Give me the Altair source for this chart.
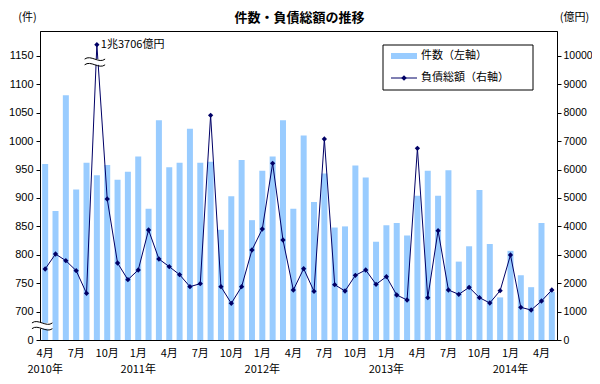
import altair as alt
import pandas as pd

# ---- data ----
months = [f"{2010 + (3 + i) // 12}-{(3 + i) % 12 + 1:02d}" for i in range(50)]  # 2010-04 .. 2014-05

counts = [960, 877, 1081, 915, 962, 940, 958, 932, 946, 973,
          881, 1037, 954, 962, 1022, 962, 964, 844, 903, 967,
          861, 948, 973, 1037, 881, 1010, 893, 943, 848, 850,
          957, 936, 823, 852, 856, 834, 904, 948, 904, 949,
          788, 815, 914, 819, 725, 807, 764, 743, 856, 735]

amounts = [2500, 3028, 2793, 2441, 1643, 13706, 4965, 2711, 2124, 2465,
           3873, 2852, 2582, 2300, 1878, 1983, 7911, 1878, 1291, 1878,
           3169, 3908, 6221, 3521, 1760, 2512, 1714, 7077, 1948, 1725,
           2277, 2465, 1960, 2230, 1585, 1408, 6749, 1491, 3850, 1760,
           1608, 1854, 1491, 1303, 1737, 2993, 1150, 1056, 1373, 1760]

tick_months = [m for m in months if int(m[5:]) in (1, 4, 7, 10)]
tick_labels = [f"{int(m[5:])}月" for m in tick_months]
year_months = ["2010-04", "2011-01", "2012-01", "2013-01", "2014-01"]
year_labels = ["2010年", "2011年", "2012年", "2013年", "2014年"]
left_ticks = [0, 700, 750, 800, 850, 900, 950, 1000, 1050, 1100, 1150]
right_ticks = [0, 1000, 2000, 3000, 4000, 5000, 6000, 7000, 8000, 9000, 10000]
spike_label = "1兆3706億円"
legend_labels = ["件数（左軸）", "負債総額（右軸）"]
title_text = "件数・負債総額の推移"

# ---- styling ----
JP = "Noto Sans CJK JP"
NUM = "Liberation Sans"
BAR = "#99CCFF"
LINE = "#000066"
BREAK_BASE = 650      # left axis is broken: 0 .. 700 squeezed into one 50-step
CAP = 10400           # the 1兆3706億円 point is drawn clipped at the top
W, H = 517, 309
LMAX, RMAX = 544, 10880

df = pd.DataFrame({"month": months, "count": counts, "amount": amounts})
tdf = pd.DataFrame({"month": tick_months, "label": tick_labels})
ydf = pd.DataFrame({"month": year_months, "label": year_labels})
one = pd.DataFrame({"k": [0]})

XS = alt.Scale(paddingInner=0, paddingOuter=0)


def lsc():
    return alt.Scale(domain=[0, LMAX], nice=False, zero=True)


def rsc():
    return alt.Scale(domain=[0, RMAX], nice=False, zero=True)


xenc = alt.X("month:O", sort=months, title=None, scale=XS, axis=None)
xnone = alt.X("month:O", sort=months, axis=None)

left_vals = [0 if v == 0 else v - BREAK_BASE for v in left_ticks]

bars = alt.Chart(df).transform_calculate(
    ct=f"datum.count - {BREAK_BASE}"
).mark_bar(color=BAR, size=6).encode(
    x=xenc,
    y=alt.Y("ct:Q", scale=lsc(),
            axis=alt.Axis(values=left_vals, title="(件)", titleAngle=0, titleX=-13, titleY=-14,
                          titleAlign="center", titleBaseline="middle", titleFont=JP,
                          titleFontSize=11, titleFontWeight="normal",
                          labelExpr=f"datum.value == 0 ? '0' : datum.value + {BREAK_BASE}",
                          labelFont=NUM, labelFontSize=11, tickSize=4, labelPadding=3,
                          grid=False, labelColor="black")),
)

rbase = alt.Chart(df).transform_calculate(disp=f"min(datum.amount, {CAP})")
line = rbase.mark_line(color=LINE, strokeWidth=1).encode(
    x=xnone,
    y=alt.Y("disp:Q", scale=rsc(),
            axis=alt.Axis(orient="right", values=right_ticks, format="d", title="(億円)",
                          titleAngle=0, titleX=17, titleY=-14, titleAlign="center",
                          titleBaseline="middle", titleFont=JP, titleFontSize=11,
                          titleFontWeight="normal", labelFont=NUM, labelFontSize=10.5,
                          tickSize=4, labelPadding=2, grid=False, labelColor="black")))
pts = rbase.mark_point(shape="diamond", filled=True, color=LINE, size=28, opacity=1).encode(
    x=xnone, y=alt.Y("disp:Q", scale=rsc(), axis=None))
spike_txt = rbase.transform_filter(f"datum.amount > {CAP}").mark_text(
    text=spike_label, font=JP, fontSize=11, align="left", baseline="middle", dx=4, color="black"
).encode(x=xnone, y=alt.Y("disp:Q", scale=rsc(), axis=None))

month_txt = alt.Chart(tdf).mark_text(font=JP, fontSize=11, baseline="top", color="black").encode(
    x=xnone, y=alt.value(H + 8), text="label:N")
years = alt.Chart(ydf).mark_text(font=JP, fontSize=11, baseline="top", color="black").encode(
    x=xnone, y=alt.value(H + 24), text="label:N")

wave = "M-1,-0.28C-0.4,-0.75,0.4,0.2,1,-0.28M-1,0.28C-0.4,-0.2,0.4,0.75,1,0.28"
blank = "M-1,-0.28H1V0.28H-1Z"


def brk(shape, month, val, sc, filled, color, xoff):
    return alt.Chart(one).mark_point(
        shape=shape, size=420, filled=filled, color=color, strokeWidth=1, opacity=1, xOffset=xoff
    ).encode(x=alt.X(datum=month, type="ordinal", axis=None),
             y=alt.Y(datum=val, type="quantitative", scale=sc, axis=None))


lbreak_w = brk(blank, months[0], 25, lsc(), True, "white", -3)
lbreak_l = brk(wave, months[0], 25, lsc(), False, "black", -3)
rbreak_w = brk(blank, months[5], 9790, rsc(), True, "white", -2)
rbreak_l = brk(wave, months[5], 9790, rsc(), False, "black", -2)

# chart title (drawn as a text mark so it sits at the reference position)
title_mark = alt.Chart(one).mark_text(text=title_text, font=JP, fontSize=13, fontWeight="bold",
                                      align="center", baseline="middle", color="black").encode(
    x=alt.value(W / 2 + 1), y=alt.value(-13))

# manual legend
leg_box = alt.Chart(one).mark_rect(fill="white", stroke="black", strokeWidth=1).encode(
    x=alt.value(343), x2=alt.value(493), y=alt.value(14), y2=alt.value(59))
leg_bar = alt.Chart(one).mark_rect(fill=BAR).encode(
    x=alt.value(351), x2=alt.value(377), y=alt.value(22), y2=alt.value(28))
leg_line = alt.Chart(one).mark_rule(color=LINE, strokeWidth=1).encode(
    x=alt.value(351), x2=alt.value(377), y=alt.value(47))
leg_pt = alt.Chart(one).mark_point(shape="diamond", filled=True, color=LINE, size=30, opacity=1).encode(
    x=alt.value(364), y=alt.value(47))
leg_t1 = alt.Chart(one).mark_text(text=legend_labels[0], font=JP, fontSize=11, align="left",
                                  baseline="middle", color="black").encode(
    x=alt.value(381), y=alt.value(25))
leg_t2 = alt.Chart(one).mark_text(text=legend_labels[1], font=JP, fontSize=11, align="left",
                                  baseline="middle", color="black").encode(
    x=alt.value(381), y=alt.value(47))

chart = alt.layer(
    bars, line, pts, spike_txt, month_txt, years,
    lbreak_w, lbreak_l, rbreak_w, rbreak_l, title_mark,
    leg_box, leg_bar, leg_line, leg_pt, leg_t1, leg_t2,
).resolve_scale(y="independent").properties(
    width=W, height=H,
    background="white",
    autosize=alt.AutoSizeParams(type="none"),
    padding={"left": 32, "top": 23, "right": 35, "bottom": 36},
).configure_view(stroke="black", strokeWidth=1).configure_axis(
    domainColor="black", tickColor="black", grid=False
)

chart.save("out.html", embed_options={"renderer": "svg", "actions": False})
